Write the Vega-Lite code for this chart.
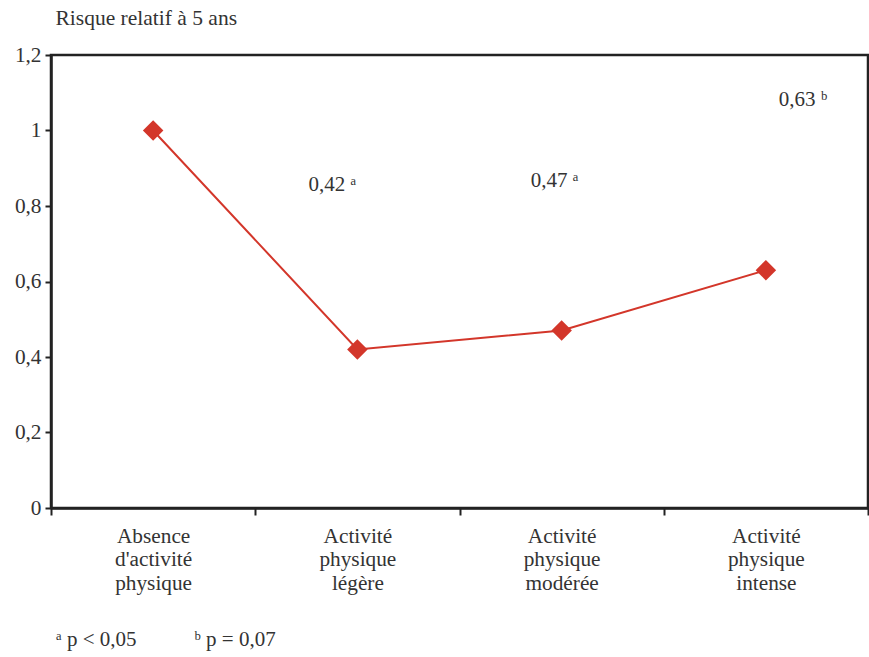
{
  "$schema": "https://vega.github.io/schema/vega-lite/v6.json",
  "autosize": {"type": "none"},
  "width": 817,
  "height": 453,
  "padding": {"left": 51, "top": 55, "right": 1, "bottom": 149},
  "background": "white",
  "config": {
    "font": "'Liberation Serif', 'DejaVu Serif', 'Times New Roman', serif",
    "view": {"stroke": "#222", "strokeWidth": 2.5},
    "text": {"font": "'Liberation Serif', 'DejaVu Serif', 'Times New Roman', serif"},
    "axis": {"labelFont": "'Liberation Serif', 'DejaVu Serif', 'Times New Roman', serif", "titleFont": "'Liberation Serif', 'DejaVu Serif', 'Times New Roman', serif", "labelColor": "#333", "titleColor": "#333", "domainColor": "#222", "tickColor": "#222", "grid": false}
  },
  "title": {
    "text": "ᵃ p < 0,05\u00a0\u00a0\u00a0\u00a0\u00a0\u00a0\u00a0\u00a0\u00a0\u00a0\u00a0ᵇ p = 0,07",
    "orient": "bottom",
    "anchor": "start",
    "frame": "group",
    "offset": 36,
    "dx": 5,
    "font": "'Liberation Serif', 'DejaVu Serif', 'Times New Roman', serif",
    "fontSize": 21,
    "fontWeight": "normal",
    "color": "#333"
  },
  "data": {
    "values": [
      {"categorie": "Absence d'activité physique", "rr": 1.0, "note": ""},
      {"categorie": "Activité physique légère", "rr": 0.42, "note": "0,42 ᵃ"},
      {"categorie": "Activité physique modérée", "rr": 0.47, "note": "0,47 ᵃ"},
      {"categorie": "Activité physique intense", "rr": 0.63, "note": "0,63 ᵇ"}
    ]
  },
  "encoding": {
    "x": {
      "field": "categorie",
      "type": "nominal",
      "sort": null,
      "axis": {
        "title": null,
        "labelAngle": 0,
        "labelExpr": "split(datum.label, ' ')",
        "labelFontSize": 21.3,
        "labelLineHeight": 23.5,
        "labelPadding": 10,
        "labelBaseline": "top",
        "tickBand": "extent",
        "tickSize": 7,
        "tickWidth": 2,
        "domainWidth": 2.5
      },
      "scale": {"paddingInner": 0, "paddingOuter": 0}
    }
  },
  "layer": [
    {
      "mark": {"type": "line", "color": "#d3362a", "strokeWidth": 2},
      "encoding": {
        "y": {
          "field": "rr",
          "type": "quantitative",
          "scale": {"domain": [0, 1.2], "nice": false},
          "axis": {
            "values": [0, 0.2, 0.4, 0.6, 0.8, 1.0, 1.2],
            "labelExpr": "replace(format(datum.value, '.1~f'), '.', ',')",
            "labelFontSize": 21.3,
            "labelPadding": 4,
            "tickSize": 6,
            "tickWidth": 2,
            "domainWidth": 2.5,
            "title": "Risque relatif à 5 ans",
            "titleAngle": 0,
            "titleAlign": "left",
            "titleBaseline": "alphabetic",
            "titleX": 4,
            "titleY": -31,
            "titleFontSize": 21.5,
            "titleFontWeight": "normal"
          }
        }
      }
    },
    {
      "mark": {"type": "point", "shape": "diamond", "filled": true, "color": "#d3362a", "size": 420, "opacity": 1},
      "encoding": {"y": {"field": "rr", "type": "quantitative"}}
    },
    {
      "transform": [{"filter": "datum.rr == 0.42"}],
      "mark": {"type": "text", "fontSize": 21, "color": "#333", "dx": -25, "baseline": "middle"},
      "encoding": {"text": {"field": "note"}, "y": {"datum": 0.856, "type": "quantitative"}}
    },
    {
      "transform": [{"filter": "datum.rr == 0.47"}],
      "mark": {"type": "text", "fontSize": 21, "color": "#333", "dx": -7, "baseline": "middle"},
      "encoding": {"text": {"field": "note"}, "y": {"datum": 0.865, "type": "quantitative"}}
    },
    {
      "transform": [{"filter": "datum.rr == 0.63"}],
      "mark": {"type": "text", "fontSize": 21, "color": "#333", "dx": 37, "baseline": "middle"},
      "encoding": {"text": {"field": "note"}, "y": {"datum": 1.082, "type": "quantitative"}}
    }
  ]
}
